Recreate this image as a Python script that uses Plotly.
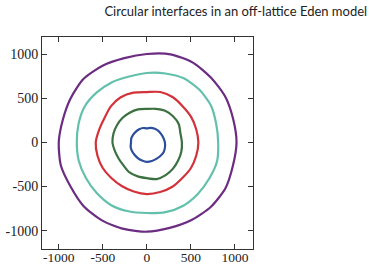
import numpy as np
import plotly.graph_objects as go

# Angles (degrees, counter-clockwise from +x) at which each interface radius was read
angles_deg = [0, 15, 30, 45, 60, 75, 90, 105, 120, 135, 150, 165,
              180, 195, 210, 225, 240, 255, 270, 285, 300, 315, 330, 345]

# Interface radii (lattice units), innermost to outermost
r_blue = [205, 195, 188, 185, 180, 172, 160, 170, 173, 175, 178, 183,
          180, 190, 195, 198, 205, 212, 220, 218, 215, 216, 220, 213]
r_green = [398, 395, 418, 420, 415, 395, 381, 388, 390, 393, 392, 392,
           390, 375, 368, 372, 393, 398, 405, 430, 428, 420, 410, 405]
r_red = [585, 580, 580, 578, 592, 592, 572, 585, 592, 578, 555, 560,
         580, 580, 578, 570, 570, 575, 585, 582, 580, 570, 578, 580]
r_teal = [810, 815, 840, 845, 840, 810, 788, 775, 790, 803, 815, 803,
          795, 800, 800, 808, 818, 808, 800, 818, 828, 822, 818, 825]
r_purple = [1018, 1015, 1030, 1035, 1045, 1035, 1003, 990, 1005, 1018, 1000, 988,
            1000, 1010, 1000, 1018, 1020, 1015, 1012, 1003, 1015, 1030, 1032, 1012]

series = [
    ("t1", r_blue, "#2b4f9c"),
    ("t2", r_green, "#3b7040"),
    ("t3", r_red, "#d3323a"),
    ("t4", r_teal, "#63c0ad"),
    ("t5", r_purple, "#6b2c82"),
]

tick_vals = [-1000, -500, 0, 500, 1000]
tick_text = ["-1000", "-500", "0", "500", "1000"]

title_text = "Circular interfaces in an off-lattice Eden model"

theta = np.deg2rad(np.array(angles_deg + [angles_deg[0]]))

fig = go.Figure()
for name, radii, color in series:
    r = np.array(radii + [radii[0]], dtype=float)
    fig.add_trace(go.Scatter(
        x=r * np.cos(theta), y=r * np.sin(theta),
        mode="lines", name=name,
        line=dict(color=color, width=2.2, shape="spline", smoothing=0.7),
        showlegend=False, hoverinfo="skip",
    ))

axis_common = dict(
    showgrid=False, zeroline=False,
    showline=True, linecolor="#333333", linewidth=1,
    mirror="ticks", ticks="inside", ticklen=5, tickcolor="#333333",
    tickvals=tick_vals, ticktext=tick_text,
    automargin=False,
)

fig.update_layout(
    width=369, height=264,
    margin=dict(l=42, r=116, t=37, b=15),
    paper_bgcolor="white", plot_bgcolor="white",
    xaxis=dict(range=[-1190, 1205],
               tickfont=dict(family="Liberation Serif", size=13.5, color="#222222"),
               **axis_common),
    yaxis=dict(range=[-1208, 1196],
               tickfont=dict(family="Liberation Serif", size=14, color="#222222"),
               **axis_common),
    title=dict(
        text=title_text,
        font=dict(family="Lato", size=13, color="#222222"),
        xref="container", x=0.995, xanchor="right",
        yref="container", y=0.955, yanchor="middle",
    ),
)

try:
    fig.update_xaxes(ticklabelstandoff=-4)
except Exception:
    pass

fig.write_html("out.html", config={"displayModeBar": False},
               post_script="document.body.style.margin='0';")
